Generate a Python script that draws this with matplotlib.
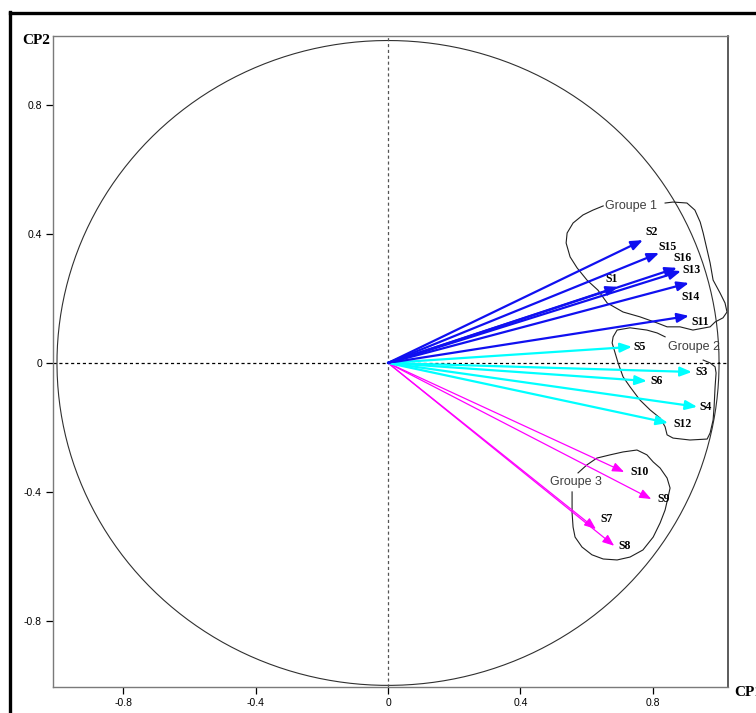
import numpy as np
import matplotlib.pyplot as plt
from matplotlib.lines import Line2D

# variable coordinates on the first two principal components
labels = ["S1", "S2", "S3", "S4", "S5", "S6", "S7", "S8",
          "S9", "S10", "S11", "S12", "S13", "S14", "S15", "S16"]
cp1 = [0.695, 0.770, 0.918, 0.934, 0.737, 0.782, 0.628, 0.683,
       0.795, 0.713, 0.909, 0.846, 0.885, 0.909, 0.819, 0.873]
cp2 = [0.236, 0.381, -0.028, -0.136, 0.050, -0.056, -0.515, -0.567,
       -0.422, -0.338, 0.146, -0.186, 0.285, 0.248, 0.341, 0.295]
group = [1, 1, 2, 2, 2, 2, 3, 3, 3, 3, 1, 2, 1, 1, 1, 1]

ticks = [-0.8, -0.4, 0, 0.4, 0.8]
tick_labels = ["-0.8", "-0.4", "0", "0.4", "0.8"]

# hand-drawn group outlines (CP1, CP2)
groupe1_x = [0.650, 0.619, 0.589, 0.559, 0.541, 0.538, 0.550, 0.571, 0.601, 0.634,
             0.662, 0.710, 0.761, 0.813, 0.843, 0.882, 0.921, 0.973, 0.988, 1.012,
             1.024, 1.018, 1.003, 0.982, 0.973, 0.964, 0.952, 0.943, 0.927, 0.903,
             0.861, 0.837]
groupe1_y = [0.487, 0.474, 0.459, 0.434, 0.403, 0.372, 0.329, 0.295, 0.257, 0.226,
             0.186, 0.158, 0.143, 0.124, 0.112, 0.112, 0.102, 0.112, 0.127, 0.140,
             0.158, 0.186, 0.217, 0.257, 0.310, 0.350, 0.403, 0.437, 0.474, 0.496,
             0.499, 0.496]
groupe2_x = [0.952, 0.973, 0.988, 0.991, 0.988, 0.985, 0.982, 0.973, 0.964, 0.912,
             0.861, 0.843, 0.837, 0.822, 0.792, 0.761, 0.731, 0.710, 0.695, 0.686,
             0.677, 0.680, 0.692, 0.731, 0.782, 0.813, 0.837]
groupe2_y = [0.009, 0.0, -0.012, -0.031, -0.074, -0.136, -0.177, -0.217, -0.236, -0.239,
             -0.233, -0.223, -0.198, -0.171, -0.146, -0.115, -0.074, -0.043, 0.0, 0.031,
             0.062, 0.081, 0.102, 0.109, 0.102, 0.093, 0.081]
groupe3_x = [0.574, 0.601, 0.631, 0.671, 0.710, 0.752, 0.782, 0.801, 0.822, 0.843,
             0.852, 0.846, 0.837, 0.822, 0.801, 0.770, 0.731, 0.692, 0.650, 0.616,
             0.586, 0.565, 0.559, 0.556, 0.556]
groupe3_y = [-0.341, -0.316, -0.295, -0.285, -0.276, -0.270, -0.285, -0.307, -0.326, -0.357,
             -0.388, -0.416, -0.456, -0.496, -0.540, -0.580, -0.602, -0.611, -0.608, -0.595,
             -0.571, -0.540, -0.509, -0.465, -0.400]

colors = {1: "#1010F0", 2: "#00FFFF", 3: "#FF00FF"}
widths = {1: 1.6, 2: 1.6, 3: 0.9}

# label offsets from the arrow tip, in pixels
label_off = {"S1": (-6, 8), "S2": (9, 8), "S3": (10, 0), "S4": (8, 0),
             "S5": (8, 0), "S6": (10, 0), "S7": (11, 10), "S8": (11, 0),
             "S9": (12, 0), "S10": (16, 0), "S11": (11, -6), "S12": (14, -1),
             "S13": (11, 1), "S14": (2, -14), "S15": (8, 6), "S16": (6, 10)}

fig = plt.figure(figsize=(7.56, 7.13), dpi=100)
ax = fig.add_axes([53 / 756, 1 - 687 / 713, 675 / 756, 651 / 713])
ax.set_xlim(-1.012, 1.027)
ax.set_ylim(-1.005, 1.014)

t = np.linspace(0, 2 * np.pi, 400)
ax.plot(np.cos(t), np.sin(t), color="#303030", lw=0.8)
ax.axhline(0, color="black", lw=0.9, linestyle=(0, (2.5, 2.2)))
ax.axvline(0, color="#555555", lw=0.9, linestyle=(0, (2.5, 2.2)))

for gx, gy in [(groupe1_x, groupe1_y), (groupe2_x, groupe2_y), (groupe3_x, groupe3_y)]:
    ax.plot(gx, gy, color="#202020", lw=0.8)

ax.text(0.655, 0.487, "Groupe 1", fontsize=9, color="#404040",
        family="Liberation Sans", va="center", ha="left")
ax.text(0.845, 0.050, "Groupe 2", fontsize=9, color="#404040",
        family="Liberation Sans", va="center", ha="left")
ax.text(0.568, -0.370, "Groupe 3", fontsize=9, color="#404040",
        family="Liberation Sans", va="center", ha="center")

for name, x, y, g in zip(labels, cp1, cp2, group):
    ax.annotate("", xy=(x, y), xytext=(0, 0),
                arrowprops=dict(arrowstyle="-|>,head_length=0.7,head_width=0.28",
                                color=colors[g], lw=widths[g], mutation_scale=10,
                                shrinkA=0, shrinkB=0))
    dx, dy = label_off[name]
    ax.annotate(name, xy=(x, y), xytext=(dx, dy), textcoords="offset pixels",
                fontsize=8.5, fontweight="bold", family="Liberation Serif",
                ha="center", va="center")

ax.set_xticks(ticks)
ax.set_xticklabels(tick_labels)
ax.set_yticks(ticks)
ax.set_yticklabels(tick_labels)
ax.tick_params(direction="out", length=5, width=0.9, labelsize=7.5, pad=3)
for lab in ax.get_xticklabels() + ax.get_yticklabels():
    lab.set_family("Liberation Sans")

for side in ["left", "top", "bottom"]:
    ax.spines[side].set_color("#7a7a7a")
    ax.spines[side].set_linewidth(1.0)
ax.spines["right"].set_color("#404040")
ax.spines["right"].set_linewidth(1.2)

fig.text(22 / 756, 1 - 40 / 713, "CP2", fontsize=11, fontweight="bold",
         family="Liberation Serif", va="center", ha="left")
fig.text(734 / 756, 1 - 693 / 713, "CP1", fontsize=11, fontweight="bold",
         family="Liberation Serif", va="center", ha="left")

# outer frame
fig.add_artist(Line2D([9.5 / 756, 9.5 / 756], [0, 1 - 12 / 713], color="black", lw=2.4,
                      transform=fig.transFigure, solid_capstyle="projecting"))
fig.add_artist(Line2D([9.5 / 756, 1.0], [1 - 13 / 713, 1 - 13 / 713], color="black", lw=2.4,
                      transform=fig.transFigure, solid_capstyle="projecting"))

fig.savefig("out.png", dpi=100)
